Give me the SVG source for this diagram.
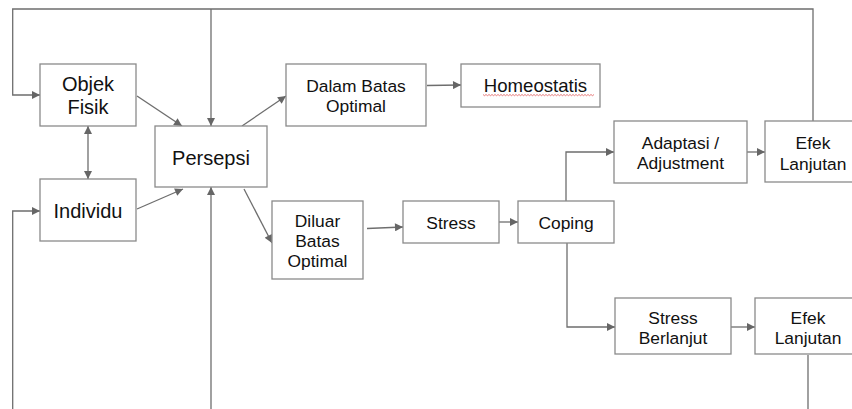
<svg xmlns="http://www.w3.org/2000/svg" width="852" height="409" viewBox="0 0 852 409">
<style>
.box{fill:#fff;stroke:#8a8a8a;stroke-width:1.3}
.ln{fill:none;stroke:#6e6e6e;stroke-width:1.3}
text{font-family:"Liberation Sans",Arial,sans-serif;fill:#111;text-anchor:middle}
.L{font-size:20px}
.S{font-size:17.4px}
</style>
<defs>
<marker id="ah" viewBox="0 0 10 10" refX="10" refY="5" markerWidth="9" markerHeight="8" markerUnits="userSpaceOnUse" orient="auto-start-reverse">
<path d="M0,0 L10,5 L0,10 z" fill="#666"/>
</marker>
</defs>
<rect width="852" height="409" fill="#fff"/>
<g id="connectors">
<path class="ln" d="M813,121 V9 H12.7 V95 H40" marker-end="url(#ah)"/>
<path class="ln" d="M211,9 V126" marker-end="url(#ah)"/>
<path class="ln" d="M12.7,409 V211 H40" marker-end="url(#ah)"/>
<path class="ln" d="M211,409 V187" marker-end="url(#ah)"/>
<path class="ln" d="M808,355 V409"/>
<path class="ln" d="M137,96 L182,126" marker-end="url(#ah)"/>
<path class="ln" d="M137,209 L183,189" marker-end="url(#ah)"/>
<path class="ln" d="M88,126 V179" marker-start="url(#ah)" marker-end="url(#ah)"/>
<path class="ln" d="M242,126 L286,96" marker-end="url(#ah)"/>
<path class="ln" d="M244,189 L272,243" marker-end="url(#ah)"/>
<path class="ln" d="M427,85.5 L461,85" marker-end="url(#ah)"/>
<path class="ln" d="M367,228.5 L403,227" marker-end="url(#ah)"/>
<path class="ln" d="M499,222 H518" marker-end="url(#ah)"/>
<path class="ln" d="M566,201 V152 H614" marker-end="url(#ah)"/>
<path class="ln" d="M567,243 V327 H615" marker-end="url(#ah)"/>
<path class="ln" d="M747,152 H765" marker-end="url(#ah)"/>
<path class="ln" d="M731,327 H755" marker-end="url(#ah)"/>
</g>
<g id="objek">
<rect class="box" x="40" y="64" width="96" height="62"/>
<text class="L" x="88" y="91">Objek</text>
<text class="L" x="88" y="114">Fisik</text>
</g>
<g id="individu">
<rect class="box" x="40" y="179" width="96" height="62"/>
<text class="L" x="88" y="218">Individu</text>
</g>
<g id="persepsi">
<rect class="box" x="155" y="126" width="112" height="61"/>
<text class="L" x="211" y="165">Persepsi</text>
</g>
<g id="dalam">
<rect class="box" x="286" y="64" width="140" height="62"/>
<text class="S" x="356" y="92">Dalam Batas</text>
<text class="S" x="356" y="112">Optimal</text>
</g>
<g id="homeostatis">
<rect class="box" x="461" y="64" width="139" height="43"/>
<text x="535.5" y="92" style="font-size:18.6px">Homeostatis</text>
<path d="M483,94.5 l1.5,1.2 l1.5,-1.2 l1.5,1.2 l1.5,-1.2 l1.5,1.2 l1.5,-1.2 l1.5,1.2 l1.5,-1.2 l1.5,1.2 l1.5,-1.2 l1.5,1.2 l1.5,-1.2 l1.5,1.2 l1.5,-1.2 l1.5,1.2 l1.5,-1.2 l1.5,1.2 l1.5,-1.2 l1.5,1.2 l1.5,-1.2 l1.5,1.2 l1.5,-1.2 l1.5,1.2 l1.5,-1.2 l1.5,1.2 l1.5,-1.2 l1.5,1.2 l1.5,-1.2 l1.5,1.2 l1.5,-1.2 l1.5,1.2 l1.5,-1.2 l1.5,1.2 l1.5,-1.2 l1.5,1.2 l1.5,-1.2 l1.5,1.2 l1.5,-1.2 l1.5,1.2 l1.5,-1.2 l1.5,1.2 l1.5,-1.2 l1.5,1.2 l1.5,-1.2 l1.5,1.2 l1.5,-1.2 l1.5,1.2 l1.5,-1.2 l1.5,1.2 l1.5,-1.2 l1.5,1.2 l1.5,-1.2 l1.5,1.2 l1.5,-1.2 l1.5,1.2 l1.5,-1.2 l1.5,1.2 l1.5,-1.2 l1.5,1.2 l1.5,-1.2 l1.5,1.2 l1.5,-1.2 l1.5,1.2 l1.5,-1.2 l1.5,1.2 l1.5,-1.2 l1.5,1.2 l1.5,-1.2 l1.5,1.2 l1.5,-1.2 l1.5,1.2 l1.5,-1.2 l1.5,1.2 l1.5,-1.2" fill="none" stroke="#e05a5a" stroke-width="0.8"/>
</g>
<g id="diluar">
<rect class="box" x="272" y="201" width="91" height="78"/>
<text class="S" x="317.5" y="227">Diluar</text>
<text class="S" x="317.5" y="247">Batas</text>
<text class="S" x="317.5" y="267">Optimal</text>
</g>
<g id="stress">
<rect class="box" x="403" y="201" width="96" height="42"/>
<text class="S" x="451" y="229">Stress</text>
</g>
<g id="coping">
<rect class="box" x="518" y="201" width="96" height="42"/>
<text class="S" x="566" y="229">Coping</text>
</g>
<g id="adaptasi">
<rect class="box" x="614" y="121" width="133" height="62"/>
<text class="S" x="680.5" y="149">Adaptasi /</text>
<text class="S" x="680.5" y="169">Adjustment</text>
</g>
<g id="efek1">
<rect class="box" x="765" y="121" width="97" height="61"/>
<text class="S" x="813" y="149">Efek</text>
<text class="S" x="813" y="170">Lanjutan</text>
</g>
<g id="stressberlanjut">
<rect class="box" x="615" y="298" width="116" height="56"/>
<text class="S" x="673" y="323.5">Stress</text>
<text class="S" x="673" y="343.5">Berlanjut</text>
</g>
<g id="efek2">
<rect class="box" x="755" y="298" width="107" height="56"/>
<text class="S" x="808" y="323.5">Efek</text>
<text class="S" x="808" y="343.5">Lanjutan</text>
</g>
</svg>
